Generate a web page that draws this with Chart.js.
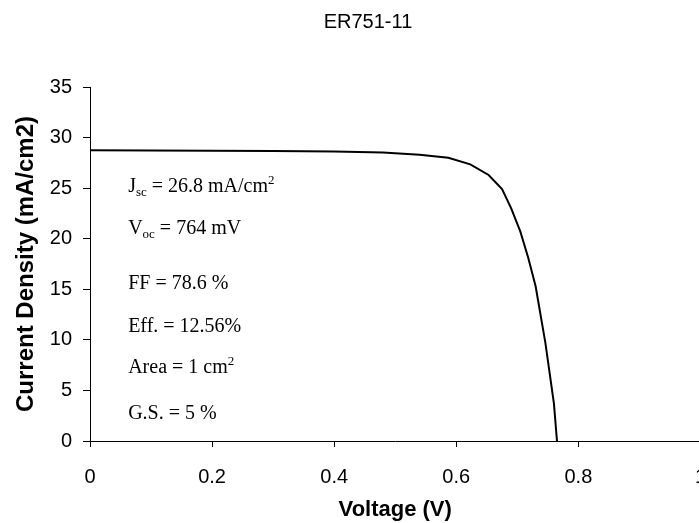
<!DOCTYPE html>
<html>
<head>
<meta charset="utf-8">
<script src="https://cdn.jsdelivr.net/npm/chart.js@4/dist/chart.umd.min.js"></script>
<style>
  html, body { margin: 0; padding: 0; background: #fff; overflow: hidden; width: 699px; height: 523px; }
  canvas { display: block; }
</style>
</head>
<body>
<canvas id="c" width="724" height="523"></canvas>
<script>
// ---- data ----
const chartTitle = 'ER751-11';
const xAxisTitle = 'Voltage (V)';
const yAxisTitle = 'Current Density (mA/cm2)';
const voltage = [0, 0.1, 0.2, 0.3, 0.4, 0.48, 0.54, 0.587, 0.623, 0.653, 0.675, 0.69, 0.705, 0.718, 0.73, 0.746, 0.76, 0.765];
const currentDensity = [28.75, 28.72, 28.7, 28.68, 28.62, 28.52, 28.3, 28.0, 27.35, 26.3, 24.9, 23.0, 20.7, 18.1, 15.3, 9.7, 3.7, 0];
const xTicks = [0, 0.2, 0.4, 0.6, 0.8, 1];
const yTicks = [0, 5, 10, 15, 20, 25, 30, 35];
// annotation text (runs: normal / sub / sup), anchored in data units
const noteLines = [
  [['J', ''], ['sc', 'sub'], [' = 26.8 mA/cm', ''], ['2', 'sup']],
  [['V', ''], ['oc', 'sub'], [' = 764 mV', '']],
  [['FF = 78.6 %', '']],
  [['Eff. = 12.56%', '']],
  [['Area = 1 cm', ''], ['2', 'sup']],
  [['G.S. = 5 %', '']]
];
const noteX = 0.0625;
const noteY = [24.6, 20.5, 15.0, 10.8, 6.7, 2.2];

const notesPlugin = {
  id: 'notes',
  afterDraw(chart) {
    const ctx = chart.ctx;
    const xs = chart.scales.x, ys = chart.scales.y;
    ctx.save();
    ctx.fillStyle = '#000';
    ctx.textBaseline = 'alphabetic';
    ctx.textAlign = 'left';
    noteLines.forEach((runs, i) => {
      let x = xs.getPixelForValue(noteX);
      const y = ys.getPixelForValue(noteY[i]);
      runs.forEach(([t, kind]) => {
        let dy = 0;
        if (kind === 'sub') { ctx.font = '13px "Liberation Serif", "Times New Roman", serif'; dy = 4; }
        else if (kind === 'sup') { ctx.font = '13px "Liberation Serif", "Times New Roman", serif'; dy = -8; }
        else { ctx.font = '20px "Liberation Serif", "Times New Roman", serif'; }
        ctx.fillText(t, x, y + dy);
        x += ctx.measureText(t).width;
      });
    });
    ctx.restore();
  }
};

const sans = '"Liberation Sans", Arial, sans-serif';

new Chart(document.getElementById('c'), {
  type: 'line',
  data: {
    datasets: [{
      data: voltage.map((v, i) => ({ x: v, y: currentDensity[i] })),
      borderColor: '#000',
      borderWidth: 2,
      pointRadius: 0,
      tension: 0,
      fill: false
    }]
  },
  options: {
    responsive: false,
    animation: false,
    devicePixelRatio: 1,
    layout: { padding: { left: 12, right: 0, top: 0, bottom: 0 } },
    plugins: {
      legend: { display: false },
      tooltip: { enabled: false },
      title: {
        display: true,
        text: chartTitle,
        color: '#000',
        font: { family: sans, size: 20, weight: 'normal' },
        padding: { top: 10, bottom: 53 }
      }
    },
    scales: {
      x: {
        type: 'linear',
        min: 0, max: 1,
        afterBuildTicks: s => { s.ticks = xTicks.map(v => ({ value: v })); },
        afterFit: s => { s.height = 82; },
        border: { display: true, color: '#000', width: 1 },
        grid: { display: true, drawOnChartArea: false, drawTicks: true, tickLength: 6, color: '#000' },
        ticks: {
          color: '#000', padding: 18,
          font: { family: sans, size: 20 },
          maxRotation: 0,
          callback: v => String(Math.round(v * 10) / 10)
        },
        title: {
          display: true, text: xAxisTitle, color: '#000',
          font: { family: sans, size: 22, weight: 'bold' },
          padding: { top: 0, bottom: 0 }
        }
      },
      y: {
        type: 'linear',
        min: 0, max: 35,
        afterBuildTicks: s => { s.ticks = yTicks.map(v => ({ value: v })); },
        afterFit: s => { s.width = 78; },
        border: { display: true, color: '#000', width: 1 },
        grid: { display: true, drawOnChartArea: false, drawTicks: true, tickLength: 7, color: '#000' },
        ticks: {
          color: '#000', padding: 11,
          font: { family: sans, size: 20 }
        },
        title: {
          display: true, text: yAxisTitle, color: '#000',
          font: { family: sans, size: 24, weight: 'bold' },
          padding: { top: 0, bottom: 0 }
        }
      }
    }
  },
  plugins: [notesPlugin]
});
</script>
</body>
</html>
